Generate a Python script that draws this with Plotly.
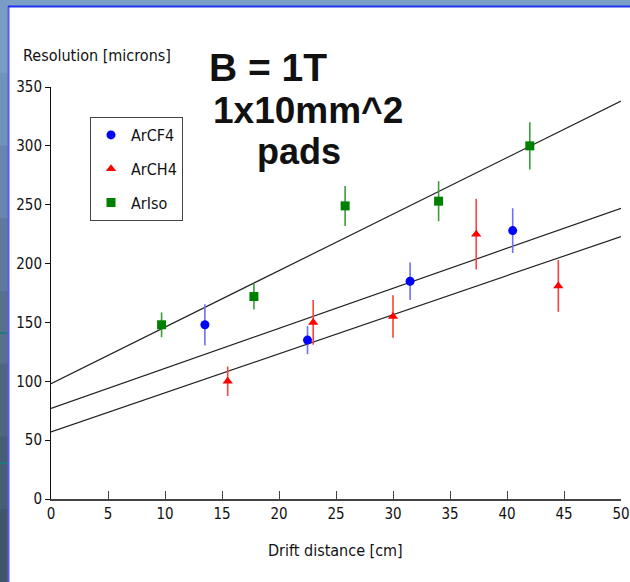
import plotly.graph_objects as go

# ---- data ----
cf4_x = [13.5, 22.5, 31.5, 40.5]
cf4_y = [148, 135, 185, 228]
cf4_err = [17.5, 12, 16, 19]

ch4_x = [15.5, 23.0, 30.0, 37.3, 44.5]
ch4_y = [100, 150, 155, 225, 181]
ch4_err = [12.5, 19, 18, 30, 22]

iso_x = [9.7, 17.8, 25.8, 34.0, 42.0]
iso_y = [148, 172, 249, 253, 300]
iso_err = [10.5, 11, 17, 17, 20]

fit_x = [0, 50]
fit_iso = [98, 338]
fit_cf4 = [77, 247]
fit_ch4 = [57, 223]

x_ticks = [0, 5, 10, 15, 20, 25, 30, 35, 40, 45, 50]
y_ticks = [0, 50, 100, 150, 200, 250, 300, 350]

# ---- layout geometry (pixels) ----
W, H = 630, 582
L, R, T, B = 51, 9, 87, 83
PW, PH = W - L - R, H - T - B


def px(xp):
    return (xp - L) / PW


def py(yp):
    return (H - B - yp) / PH


FONT = "DejaVu Sans Condensed, DejaVu Sans, sans-serif"
BIG = "Liberation Sans, Arial, sans-serif"

fig = go.Figure()

for fy in (fit_iso, fit_cf4, fit_ch4):
    fig.add_trace(go.Scatter(x=fit_x, y=fy, mode="lines",
                             line=dict(color="#222222", width=1.2),
                             showlegend=False, hoverinfo="skip"))

fig.add_trace(go.Scatter(
    x=cf4_x, y=cf4_y, mode="markers", name="ArCF4", legendgroup="a",
    marker=dict(symbol="circle", size=9, color="#0000ff"),
    error_y=dict(type="data", array=cf4_err, color="#6f6ff5", thickness=1.6, width=0)))
fig.add_trace(go.Scatter(
    x=ch4_x, y=ch4_y, mode="markers", name="ArCH4", legendgroup="b",
    marker=dict(symbol="triangle-up", size=9, color="#ff0000"),
    error_y=dict(type="data", array=ch4_err, color="#ff4040", thickness=1.6, width=0)))
fig.add_trace(go.Scatter(
    x=iso_x, y=iso_y, mode="markers", name="ArIso", legendgroup="c",
    marker=dict(symbol="square", size=9, color="#008000"),
    error_y=dict(type="data", array=iso_err, color="#3c9c3c", thickness=1.6, width=0)))

shapes = []
# slide background strips
grad = ["#7b9dc5", "#7193bb", "#6886ad", "#5f7a9c", "#56708e", "#4e6680", "#475d75", "#41556b"]
n = len(grad)
for i, c in enumerate(grad):
    y0 = i * H / n
    y1 = (i + 1) * H / n + 1
    shapes.append(dict(type="rect", xref="paper", yref="paper", layer="below",
                       x0=px(0), x1=px(8), y0=py(y1), y1=py(y0),
                       fillcolor=c, line=dict(width=0)))
shapes.append(dict(type="rect", xref="paper", yref="paper", layer="below",
                   x0=px(8), x1=px(W), y0=py(6), y1=py(0),
                   fillcolor="#7aa0c8", line=dict(width=0)))
# panel border
shapes.append(dict(type="line", xref="paper", yref="paper", layer="below",
                   x0=px(8.5), x1=px(8.5), y0=py(H), y1=py(6),
                   line=dict(color="#5a5af0", width=2)))
shapes.append(dict(type="line", xref="paper", yref="paper", layer="below",
                   x0=px(8), x1=px(W), y0=py(6.5), y1=py(6.5),
                   line=dict(color="#2233ee", width=2)))
# small decorative teal marks on slide background
for yy in (333, 463):
    shapes.append(dict(type="line", xref="paper", yref="paper", layer="below",
                       x0=px(0), x1=px(7), y0=py(yy), y1=py(yy),
                       line=dict(color="#1f7a78", width=2)))

annotations = [
    dict(text="Resolution [microns]", xref="paper", yref="paper",
         x=px(21), y=py(55), xanchor="left", yanchor="middle", showarrow=False,
         font=dict(family=FONT, size=16, color="#111111")),
    dict(text="Drift distance [cm]", xref="paper", yref="paper",
         x=px(335), y=py(550), xanchor="center", yanchor="middle", showarrow=False,
         font=dict(family=FONT, size=16, color="#111111")),
    dict(text="<b>B = 1T</b>", xref="paper", yref="paper",
         x=px(207), y=py(68), xanchor="left", yanchor="middle", showarrow=False,
         font=dict(family=BIG, size=39, color="#111111")),
    dict(text="<b>1x10mm^2</b>", xref="paper", yref="paper",
         x=px(211), y=py(111), xanchor="left", yanchor="middle", showarrow=False,
         font=dict(family=BIG, size=37, color="#111111")),
    dict(text="<b>pads</b>", xref="paper", yref="paper",
         x=px(299), y=py(151), xanchor="center", yanchor="middle", showarrow=False,
         font=dict(family=BIG, size=36, color="#111111")),
]

fig.update_layout(
    width=W, height=H, autosize=False,
    margin=dict(l=L, r=R, t=T, b=B, pad=0, autoexpand=False),
    paper_bgcolor="white", plot_bgcolor="white",
    shapes=shapes, annotations=annotations,
    legend=dict(x=px(90), y=py(117), xanchor="left", yanchor="top",
                bordercolor="#444444", borderwidth=1, bgcolor="white",
                font=dict(family=FONT, size=16, color="#111111"),
                itemwidth=30, tracegroupgap=10),
    xaxis=dict(range=[0, 50], tickvals=x_ticks, ticktext=[str(v) for v in x_ticks],
               automargin=False,
               showgrid=False, zeroline=False, showline=True, linecolor="#444444", linewidth=2,
               ticks="inside", ticklen=8, tickcolor="#444444", tickwidth=1,
               tickfont=dict(family=FONT, size=15, color="#111111")),
    yaxis=dict(range=[0, 350], tickvals=y_ticks, ticktext=[str(v) for v in y_ticks],
               automargin=False,
               showgrid=False, zeroline=False, showline=True, linecolor="#111111", linewidth=1,
               ticks="outside", ticklen=5, tickcolor="#111111", tickwidth=1,
               tickfont=dict(family=FONT, size=15, color="#111111")),
    showlegend=True,
)

fig.write_html("out.html",
               config={"displayModeBar": False},
               post_script="document.body.style.margin='0';document.body.style.overflow='hidden';")
